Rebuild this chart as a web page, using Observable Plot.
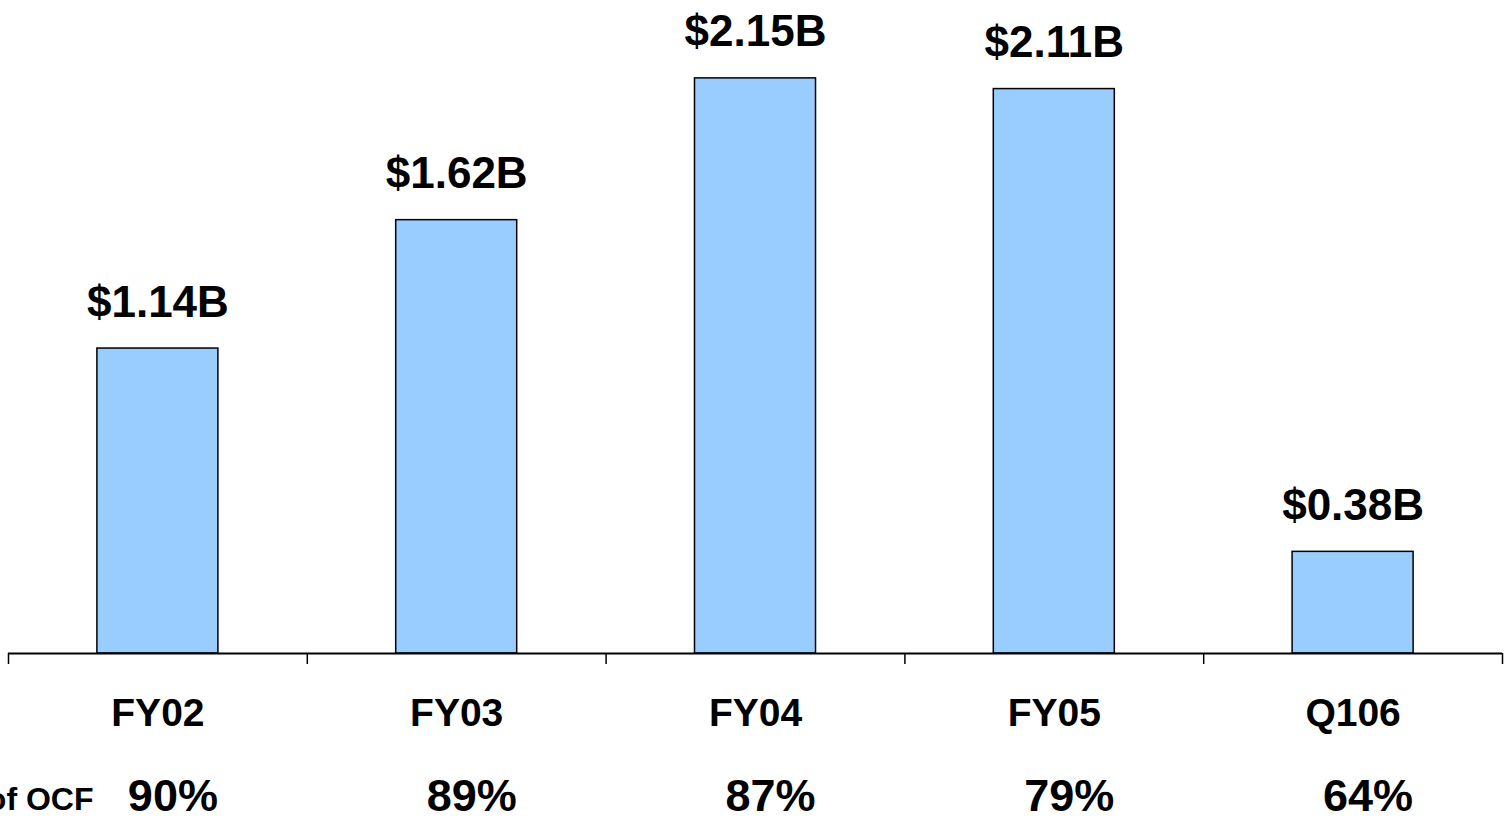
<!DOCTYPE html>
<html>
<head>
<meta charset="utf-8">
<script src="https://cdn.jsdelivr.net/npm/d3@7"></script>
<script src="https://cdn.jsdelivr.net/npm/@observablehq/plot@0.6"></script>
<style>
  html, body { margin: 0; padding: 0; background: #fff; overflow: hidden; }
  #chart svg { display: block; }
</style>
</head>
<body>
<div id="chart"></div>
<script>
const categories = ["FY02", "FY03", "FY04", "FY05", "Q106"];
const values = [1.14, 1.62, 2.15, 2.11, 0.38];
const valueLabels = ["$1.14B", "$1.62B", "$2.15B", "$2.11B", "$0.38B"];
const ocfShare = ["90%", "89%", "87%", "79%", "64%"];
const rowLabel = "% of OCF";

const table = categories.map((c, i) => ({
  i, category: c, value: values[i], label: valueLabels[i], share: ocfShare[i]
}));
const boundaries = d3.range(categories.length + 1);
const half = 0.2025; // half bar width in band units

const font = "'Liberation Sans', Arial, Helvetica, sans-serif";

const chart = Plot.plot({
  width: 1504,
  height: 819,
  marginLeft: 8,
  marginRight: 2,
  marginTop: 11,
  marginBottom: 166,
  style: { fontFamily: font, background: "#fff", overflow: "visible" },
  x: { domain: [0, categories.length], axis: null },
  y: { domain: [0, 2.4], axis: null },
  marks: [
    Plot.rectY(table, {
      x1: d => d.i + 0.5 - half,
      x2: d => d.i + 0.5 + half,
      y1: 0,
      y2: "value",
      fill: "#99CCFF",
      stroke: "#000",
      strokeWidth: 1.5
    }),
    Plot.ruleY([0], { stroke: "#000", strokeWidth: 2 }),
    Plot.axisX({
      ticks: boundaries,
      tickSize: 11,
      tickFormat: () => "",
      stroke: "#000",
      strokeWidth: 1.5
    }),
    Plot.text(table, {
      x: d => d.i + 0.5,
      y: "value",
      text: "label",
      lineAnchor: "bottom",
      dy: -32,
      fontSize: 44,
      fontWeight: "bold",
      fill: "#000"
    }),
    Plot.text(table, {
      x: d => d.i + 0.5,
      y: () => 0,
      text: "category",
      lineAnchor: "bottom",
      dy: 72,
      fontSize: 39,
      fontWeight: "bold",
      fill: "#000"
    }),
    Plot.text(table, {
      x: d => d.i + 0.5,
      y: () => 0,
      text: "share",
      lineAnchor: "bottom",
      dx: 15,
      dy: 157,
      fontSize: 45,
      fontWeight: "bold",
      fill: "#000"
    }),
    Plot.text([rowLabel], {
      x: () => 0,
      y: () => 0,
      text: d => d,
      textAnchor: "end",
      lineAnchor: "bottom",
      dx: 85,
      dy: 156,
      fontSize: 32,
      fontWeight: "bold",
      fill: "#000",
      style: "white-space: pre"
    })
  ]
});
document.getElementById("chart").appendChild(chart);
</script>
</body>
</html>
